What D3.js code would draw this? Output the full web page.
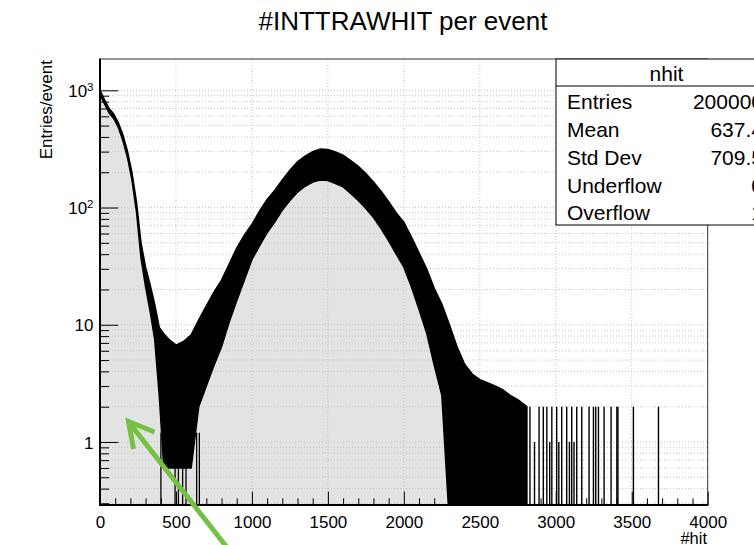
<!DOCTYPE html>
<html><head><meta charset="utf-8">
<script src="https://cdn.jsdelivr.net/npm/d3@7"></script>
<style>
body{margin:0;background:#fff}
text{font-family:"Liberation Sans",Arial,Helvetica,sans-serif;fill:#000}
</style>
</head><body>
<svg id="c" width="754" height="545"></svg>
<script>
// ---- data ----
// envelope of the noisy #hit distribution (upper / lower edge of the black band), entries/event
const envX  = [0, 30, 60, 90, 120, 150, 180, 210, 240, 270, 300, 330, 360, 390, 420, 450, 500, 550, 600, 650,
               700, 750, 800, 850, 900, 950, 1000, 1050, 1100, 1150, 1200, 1250, 1300, 1350, 1400, 1450, 1500,
               1550, 1600, 1650, 1700, 1750, 1800, 1850, 1900, 1950, 2000, 2050, 2100, 2150, 2200, 2250, 2300,
               2350, 2400, 2450, 2500, 2550, 2600, 2650, 2700, 2750, 2810];
const envHi = [1000, 830, 700, 630, 530, 420, 305, 200, 112, 50, 31, 22, 15, 9.5, 8.4, 7.6, 6.7, 7.2, 8.2, 11,
               14.5, 19, 24, 33, 45, 58, 72, 93, 117, 140, 172, 208, 245, 275, 300, 316, 312,
               298, 280, 252, 225, 195, 165, 138, 112, 90, 75, 56, 41, 30, 20.5, 15, 10,
               6.5, 4.6, 3.8, 3.4, 3.2, 3.0, 2.8, 2.5, 2.3, 2.0];
const envLo = [910, 765, 640, 575, 485, 375, 270, 172, 92, 37, 21, 13, 7.5, 2.5, 0.6, 0.6, 0.6, 0.6, 0.6, 2.0,
               3.0, 4.5, 6.5, 10.5, 16, 24, 36, 47, 61, 75, 95, 115, 135, 152, 165, 172, 170,
               160, 150, 132, 115, 98, 82, 66, 52, 40, 31, 21, 13.5, 8.5, 4.5, 2.5, 0.1,
               0.1, 0.1, 0.1, 0.1, 0.1, 0.1, 0.1, 0.1, 0.1, 0.1];
// bins at the dip that drop to zero (#hit)
const dipZeroX = [401, 494, 516, 544, 566, 636, 654];
// isolated bins in the tail (#hit, entries/event)
const tailX = [2830, 2860, 2890, 2918, 2941, 2960, 2974, 3006, 3020, 3039, 3072, 3090, 3105, 3120, 3138,
               3171, 3219, 3248, 3263, 3281, 3318, 3364, 3402, 3409, 3511, 3676];
const tailY = [2, 1, 2, 2, 2, 1, 2, 2, 1, 2, 2, 1, 2, 1, 2,
               2, 2, 2, 2, 2, 2, 2, 2, 2, 2, 2];
const fillEndX = 2320;               // grey fill of the histogram stops here
const xTickLabels = [0, 500, 1000, 1500, 2000, 2500, 3000, 3500, 4000];
const yTickLabels = [1, 10, 100, 1000];
const statNames  = ["Entries", "Mean", "Std Dev", "Underflow", "Overflow"];
const statValues = ["200000", "637.4", "709.5", "0", "1"];

// ---- layout ----
const L = 100, R = 707.7, T = 59, B = 505;
const svg = d3.select("#c");
const x = d3.scaleLinear().domain([0, 4000]).range([L, R]);
const y = d3.scaleLog().domain([0.29, 1850]).range([B, T]);

svg.append("rect").attr("width", 754).attr("height", 545).attr("fill", "#fff");

const defs = svg.append("defs");
defs.append("clipPath").attr("id", "frame").append("rect")
  .attr("x", L).attr("y", T).attr("width", R - L).attr("height", B - T);
defs.append("clipPath").attr("id", "fillclip").append("rect")
  .attr("x", L).attr("y", T).attr("width", x(fillEndX) - L).attr("height", B - T);

const env = envX.map((v, i) => ({x: v, hi: envHi[i], lo: envLo[i]}));
const yc = v => y(Math.max(v, 0.2));

// grey fill under the histogram
svg.append("path").attr("clip-path", "url(#fillclip)")
  .attr("fill", "#e3e3e3")
  .attr("d", d3.area().x(d => x(d.x)).y0(B).y1(d => yc(d.hi))(env));

// grid
const gridCol = "#c4c4c4";
const g = svg.append("g").attr("clip-path", "url(#frame)");
xTickLabels.slice(1, -1).forEach(v => {
  g.append("line").attr("x1", x(v)).attr("x2", x(v)).attr("y1", T).attr("y2", B)
   .attr("stroke", gridCol).attr("stroke-width", 1).attr("stroke-dasharray", "1,2");
});
const yAll = [];
[0.1, 1, 10, 100].forEach(d => { for (let k = 1; k <= 9; k++) yAll.push(+(d * k).toPrecision(3)); });
yAll.push(1000);
const yMinor = yAll.filter(v => v >= 0.29 && v <= 1850);
yMinor.forEach(v => {
  g.append("line").attr("x1", L).attr("x2", R).attr("y1", y(v)).attr("y2", y(v))
   .attr("stroke", gridCol).attr("stroke-width", 1).attr("stroke-dasharray", "1,2");
});

// histogram band
const band = svg.append("g").attr("clip-path", "url(#frame)");
band.append("path")
  .attr("fill", "#000").attr("stroke", "#000").attr("stroke-width", 1.5)
  .attr("d", d3.area().x(d => x(d.x)).y0(d => yc(d.lo)).y1(d => yc(d.hi))(env));
dipZeroX.forEach(v => {
  band.append("line").attr("x1", x(v)).attr("x2", x(v)).attr("y1", B).attr("y2", y(1.2))
    .attr("stroke", "#000").attr("stroke-width", 1.3);
});
tailX.forEach((v, i) => {
  band.append("line").attr("x1", x(v)).attr("x2", x(v)).attr("y1", B).attr("y2", y(tailY[i]))
    .attr("stroke", "#000").attr("stroke-width", 1.4);
});

// frame
svg.append("line").attr("x1", L).attr("x2", R).attr("y1", T).attr("y2", T).attr("stroke", "#333").attr("stroke-width", 1);
svg.append("line").attr("x1", R).attr("x2", R).attr("y1", T).attr("y2", B).attr("stroke", "#333").attr("stroke-width", 1);

// x axis
const xMinorVals = d3.range(0, 4001, 100).filter(v => v % 500 !== 0);
const xAxisMinor = d3.axisBottom(x).tickValues(xMinorVals).tickSize(-6.7).tickFormat("");
const xAxis = d3.axisBottom(x).tickValues(xTickLabels).tickSize(-13.4).tickPadding(11).tickFormat(d3.format("d"));
const gxm = svg.append("g").attr("transform", `translate(0,${B})`).call(xAxisMinor);
const gx = svg.append("g").attr("transform", `translate(0,${B})`).call(xAxis);
[gx, gxm].forEach(a => {
  a.select(".domain").remove();
  a.selectAll("line").attr("stroke", "#000").attr("stroke-width", 1);
});
gx.selectAll("text").attr("font-size", 17).attr("font-family", "Liberation Sans, Arial, sans-serif");

// y axis
const yMinorOnly = yMinor.filter(v => !yTickLabels.includes(v));
const yAxisMinor = d3.axisLeft(y).tickValues(yMinorOnly).tickSize(-9.1).tickFormat("");
const yAxis = d3.axisLeft(y).tickValues(yTickLabels).tickSize(-18.2).tickPadding(6.5).tickFormat(d => "");
const gym = svg.append("g").attr("transform", `translate(${L},0)`).call(yAxisMinor);
const gy = svg.append("g").attr("transform", `translate(${L},0)`).call(yAxis);
[gy, gym].forEach(a => {
  a.select(".domain").remove();
  a.selectAll("line").attr("stroke", "#000").attr("stroke-width", 1);
});
gy.selectAll(".tick text").each(function(d) {
  const t = d3.select(this).attr("font-size", 17).attr("font-family", "Liberation Sans, Arial, sans-serif")
    .attr("dy", "0.36em").attr("x", -6.5);
  if (d >= 100) {
    t.append("tspan").text("10");
    t.append("tspan").text(String(Math.round(Math.log10(d)))).attr("font-size", 11.5).attr("dy", "-0.55em");
  } else {
    t.text(String(d));
  }
});

// axis lines
svg.append("line").attr("x1", L).attr("x2", L).attr("y1", T - 0.5).attr("y2", B + 1).attr("stroke", "#000").attr("stroke-width", 2);
svg.append("line").attr("x1", L - 1).attr("x2", R + 0.5).attr("y1", B).attr("y2", B).attr("stroke", "#000").attr("stroke-width", 2);

// axis titles
svg.append("text").attr("x", 707).attr("y", 543.5).attr("text-anchor", "end").attr("font-size", 16.5).text("#hit");
svg.append("text").attr("transform", "translate(52,60) rotate(-90)").attr("text-anchor", "end")
  .attr("font-size", 17).text("Entries/event");

// title
svg.append("text").attr("x", 403).attr("y", 30).attr("text-anchor", "middle").attr("font-size", 26)
  .text("#INTTRAWHIT per event");

// stats box
const bx = 556, by = 59, bw = 221, bh = 166;
svg.append("rect").attr("x", bx).attr("y", by).attr("width", bw).attr("height", bh)
  .attr("fill", "#fff").attr("stroke", "#000").attr("stroke-width", 1);
svg.append("line").attr("x1", bx).attr("x2", bx + bw).attr("y1", 86).attr("y2", 86).attr("stroke", "#000").attr("stroke-width", 1);
svg.append("text").attr("x", bx + bw / 2).attr("y", 80.5).attr("text-anchor", "middle").attr("font-size", 21).text("nhit");
statNames.forEach((n, i) => {
  const yy = 109.3 + i * 27.75;
  svg.append("text").attr("x", 567).attr("y", yy).attr("font-size", 21).text(n);
  svg.append("text").attr("x", 763).attr("y", yy).attr("text-anchor", "end").attr("font-size", 21).text(statValues[i]);
});

// green annotation arrow
svg.append("line").attr("x1", 229).attr("y1", 550).attr("x2", 129.5).attr("y2", 423)
  .attr("stroke", "#76c143").attr("stroke-width", 5);
svg.append("path").attr("d", "M133.5,449 L128.5,421.5 L154.5,432")
  .attr("fill", "none").attr("stroke", "#76c143").attr("stroke-width", 5).attr("stroke-linejoin", "miter");
</script>
</body></html>
